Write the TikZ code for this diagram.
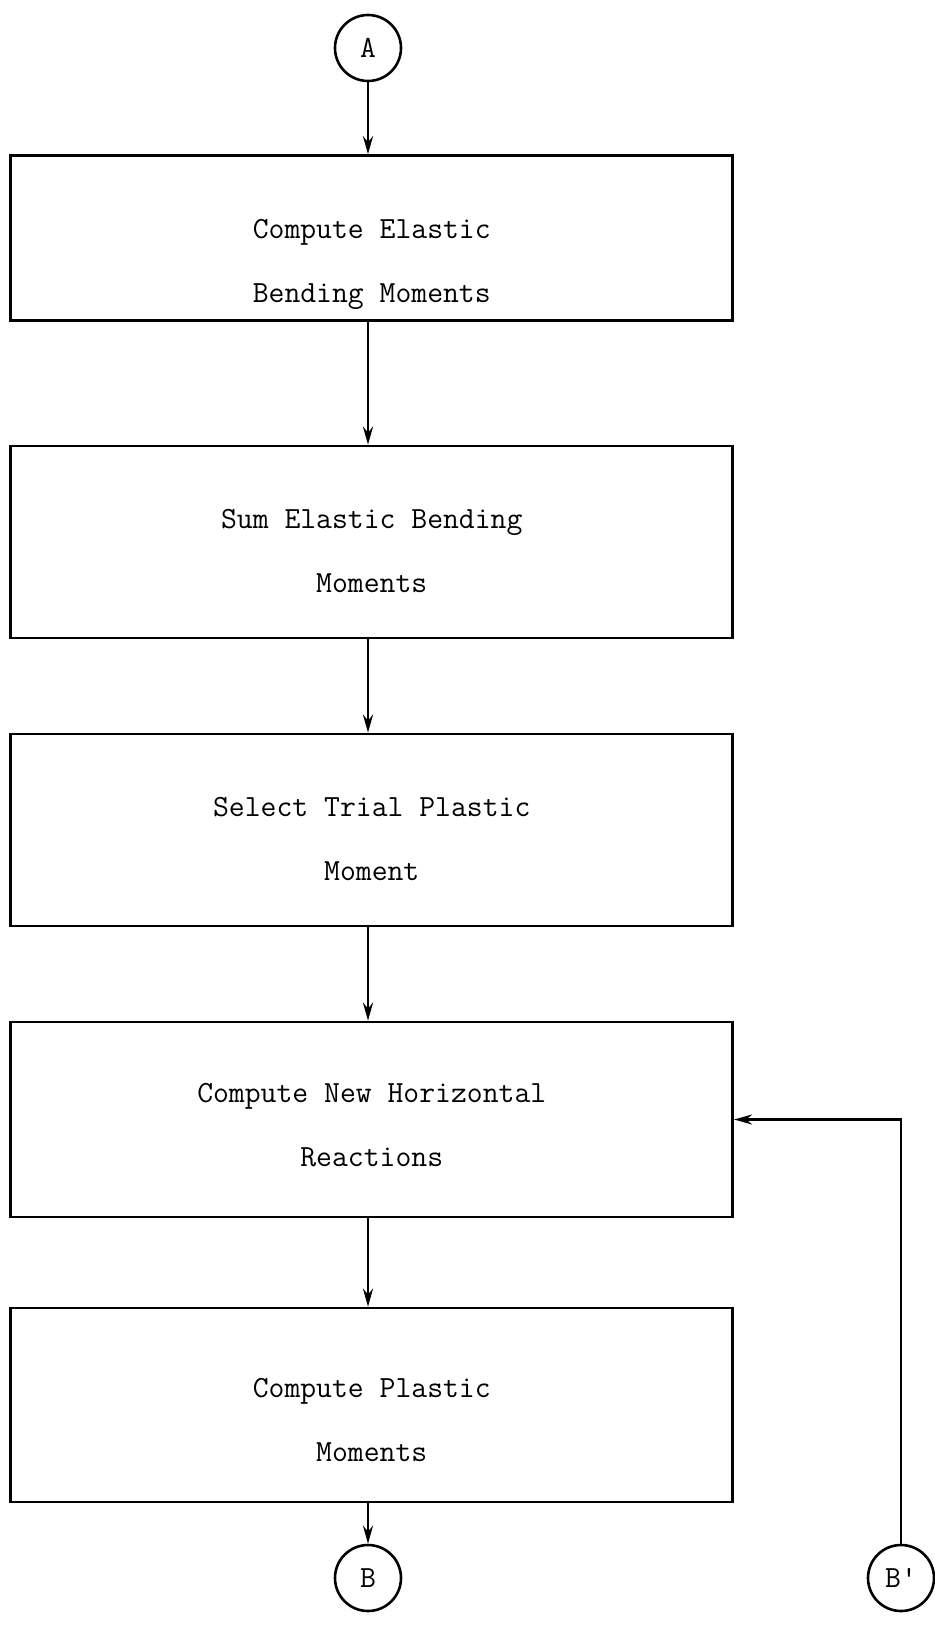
\documentclass[tikz,border=0pt]{standalone}
\usepackage{tikz}
\usetikzlibrary{arrows.meta,positioning}

\begin{document}
\begin{tikzpicture}[x=0.5pt,y=-0.5pt,
  stepbox/.style={draw,line width=1.3pt,minimum width=361pt},
  txt/.style={align=center,font=\fontsize{15.4}{32}\selectfont\ttfamily},
  conn/.style={draw,circle,line width=1.3pt,minimum size=33pt,inner sep=0pt,font=\fontsize{15.4}{18}\selectfont\ttfamily},
  flow/.style={line width=1.3pt,-{Stealth[length=9pt,width=5pt]}},
]
  \useasboundingbox (0,0) rectangle (934,1649);

  \node[conn] (A) at (368,48) {A};

  \node[stepbox,minimum height=82.5pt,label={[txt,yshift=-13pt]center:Compute Elastic\\Bending Moments}] (e1) at (371.75,238) {};
  \node[stepbox,minimum height=96pt,label={[txt,yshift=-4.5pt]center:Sum Elastic Bending\\Moments}] (e2) at (371.75,542) {};
  \node[stepbox,minimum height=96pt,label={[txt,yshift=-4.5pt]center:Select Trial Plastic\\Moment}] (e3) at (371.75,830) {};
  \node[stepbox,minimum height=97.5pt,label={[txt,yshift=-3pt]center:Compute New Horizontal\\Reactions}] (e4) at (371.75,1119.5) {};
  \node[stepbox,minimum height=97pt,label={[txt,yshift=-7.5pt]center:Compute Plastic\\Moments}] (e5) at (371.75,1405) {};

  \node[conn] (B) at (368,1578) {B};
  \node[conn] (Bp) at (901,1578) {B\textquotesingle};

  \draw[flow] (A) -- (A |- e1.north);
  \draw[flow] (A |- e1.south) -- (A |- e2.north);
  \draw[flow] (A |- e2.south) -- (A |- e3.north);
  \draw[flow] (A |- e3.south) -- (A |- e4.north);
  \draw[flow] (A |- e4.south) -- (A |- e5.north);
  \draw[flow] (B |- e5.south) -- (B);

  % return from B'
  \draw[flow] (Bp) |- (e4.east);
\end{tikzpicture}
\end{document}
